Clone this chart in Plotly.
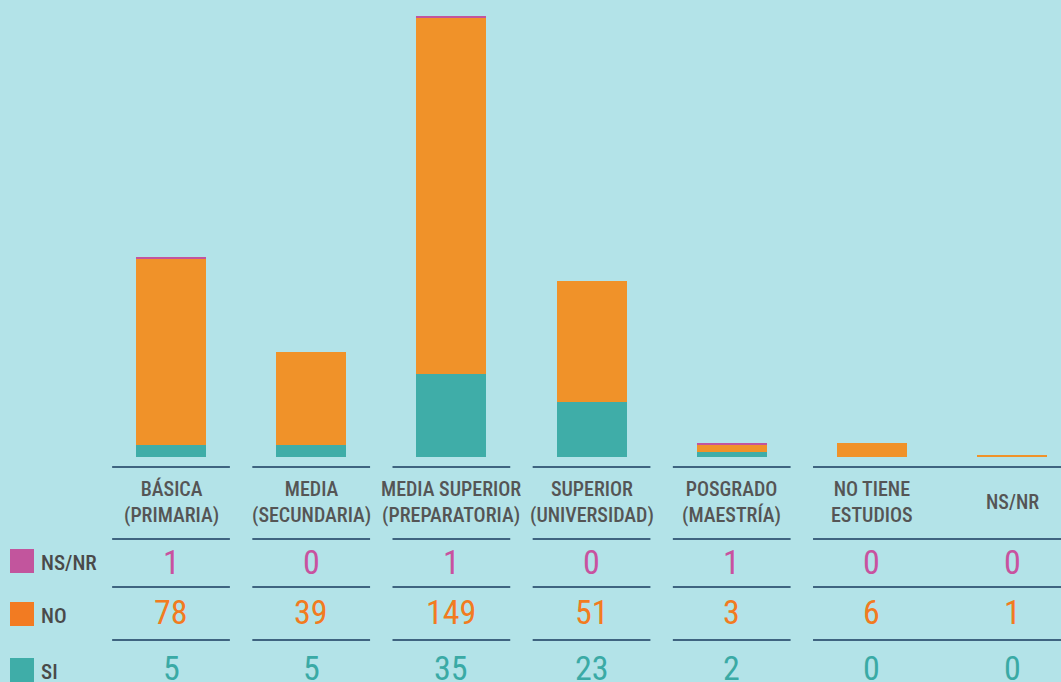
import plotly.graph_objects as go

# Nivel de estudios y respuestas (SI / NO / NS-NR)
categorias = [
    "BÁSICA<br>(PRIMARIA)",
    "MEDIA<br>(SECUNDARIA)",
    "MEDIA SUPERIOR<br>(PREPARATORIA)",
    "SUPERIOR<br>(UNIVERSIDAD)",
    "POSGRADO<br>(MAESTRÍA)",
    "NO TIENE<br>ESTUDIOS",
    "NS/NR",
]
si = [5, 5, 35, 23, 2, 0, 0]
no = [78, 39, 149, 51, 3, 6, 1]
nsnr = [1, 0, 1, 0, 1, 0, 0]

series = [
    ("SI", si, "#3fada8"),
    ("NO", no, "#f09229"),
    ("NS/NR", nsnr, "#c2559d"),
]

W, H = 1061, 682
PLOT_BOTTOM = 457  # pixel row of the bar baseline
BG = "#b3e3e8"
LINE = "#3f6480"
LABEL = "#555555"
FONT = "Roboto Condensed, Liberation Sans Narrow, sans-serif"


def py(p):
    """Pixel row -> paper y for the plot area that spans rows 0..PLOT_BOTTOM."""
    return (PLOT_BOTTOM - p) / PLOT_BOTTOM


def pxx(p):
    """Pixel column -> paper x (plot spans the full width)."""
    return p / W


fig = go.Figure()
idx = list(range(len(categorias)))
for name, vals, col in series:
    fig.add_trace(go.Bar(
        x=idx, y=vals, name=name, marker=dict(color=col, line=dict(width=0)),
        width=0.5, showlegend=False, hoverinfo="y+name",
    ))

shapes = []
annotations = []

# table rule lines
for row in [467, 539, 587, 640]:
    for i in idx:
        last = i == len(idx) - 1
        x0 = i - 0.64 if last else i - 0.42
        x1 = 7.0 if last else i + 0.42
        shapes.append(dict(
            type="line", xref="x", yref="paper", x0=x0, x1=x1,
            y0=py(row), y1=py(row), line=dict(color=LINE, width=2),
        ))

# category labels
for i, c in enumerate(categorias):
    annotations.append(dict(
        x=i, y=py(502), xref="x", yref="paper", text=c, showarrow=False,
        font=dict(family=FONT, size=20, color=LABEL, weight=500), align="center",
        xanchor="center", yanchor="middle",
    ))

# value rows and legend keys
rows = [("NS/NR", nsnr, 562, 561, "#c2559d", "#c8529f"),
        ("NO", no, 612, 614, "#f27b22", "#f27b20"),
        ("SI", si, 668, 670, "#3fada8", "#3aaaa5")]
for name, vals, yv, ykey, keycol, txtcol in rows:
    for i, v in enumerate(vals):
        annotations.append(dict(
            x=i, y=py(yv), xref="x", yref="paper", text=str(v), showarrow=False,
            font=dict(family=FONT, size=34, color=txtcol),
            xanchor="center", yanchor="middle",
        ))
    shapes.append(dict(
        type="rect", xref="paper", yref="paper",
        x0=pxx(10), x1=pxx(34), y0=py(ykey + 12), y1=py(ykey - 12),
        fillcolor=keycol, line=dict(width=0),
    ))
    annotations.append(dict(
        x=pxx(39), y=py(ykey + 2), xref="paper", yref="paper", text=name,
        showarrow=False, font=dict(family=FONT, size=21, color="#4a4a4a", weight=500),
        xanchor="left", yanchor="middle",
    ))

ymax = PLOT_BOTTOM / 2.384
fig.update_layout(
    width=W, height=H, barmode="stack",
    margin=dict(l=0, r=0, t=0, b=H - PLOT_BOTTOM, pad=0),
    paper_bgcolor=BG, plot_bgcolor=BG,
    xaxis=dict(range=[-1.22, 6.349], visible=False, fixedrange=True),
    yaxis=dict(range=[0, ymax], visible=False, fixedrange=True),
    shapes=shapes, annotations=annotations,
)

fig.write_html("out.html")
